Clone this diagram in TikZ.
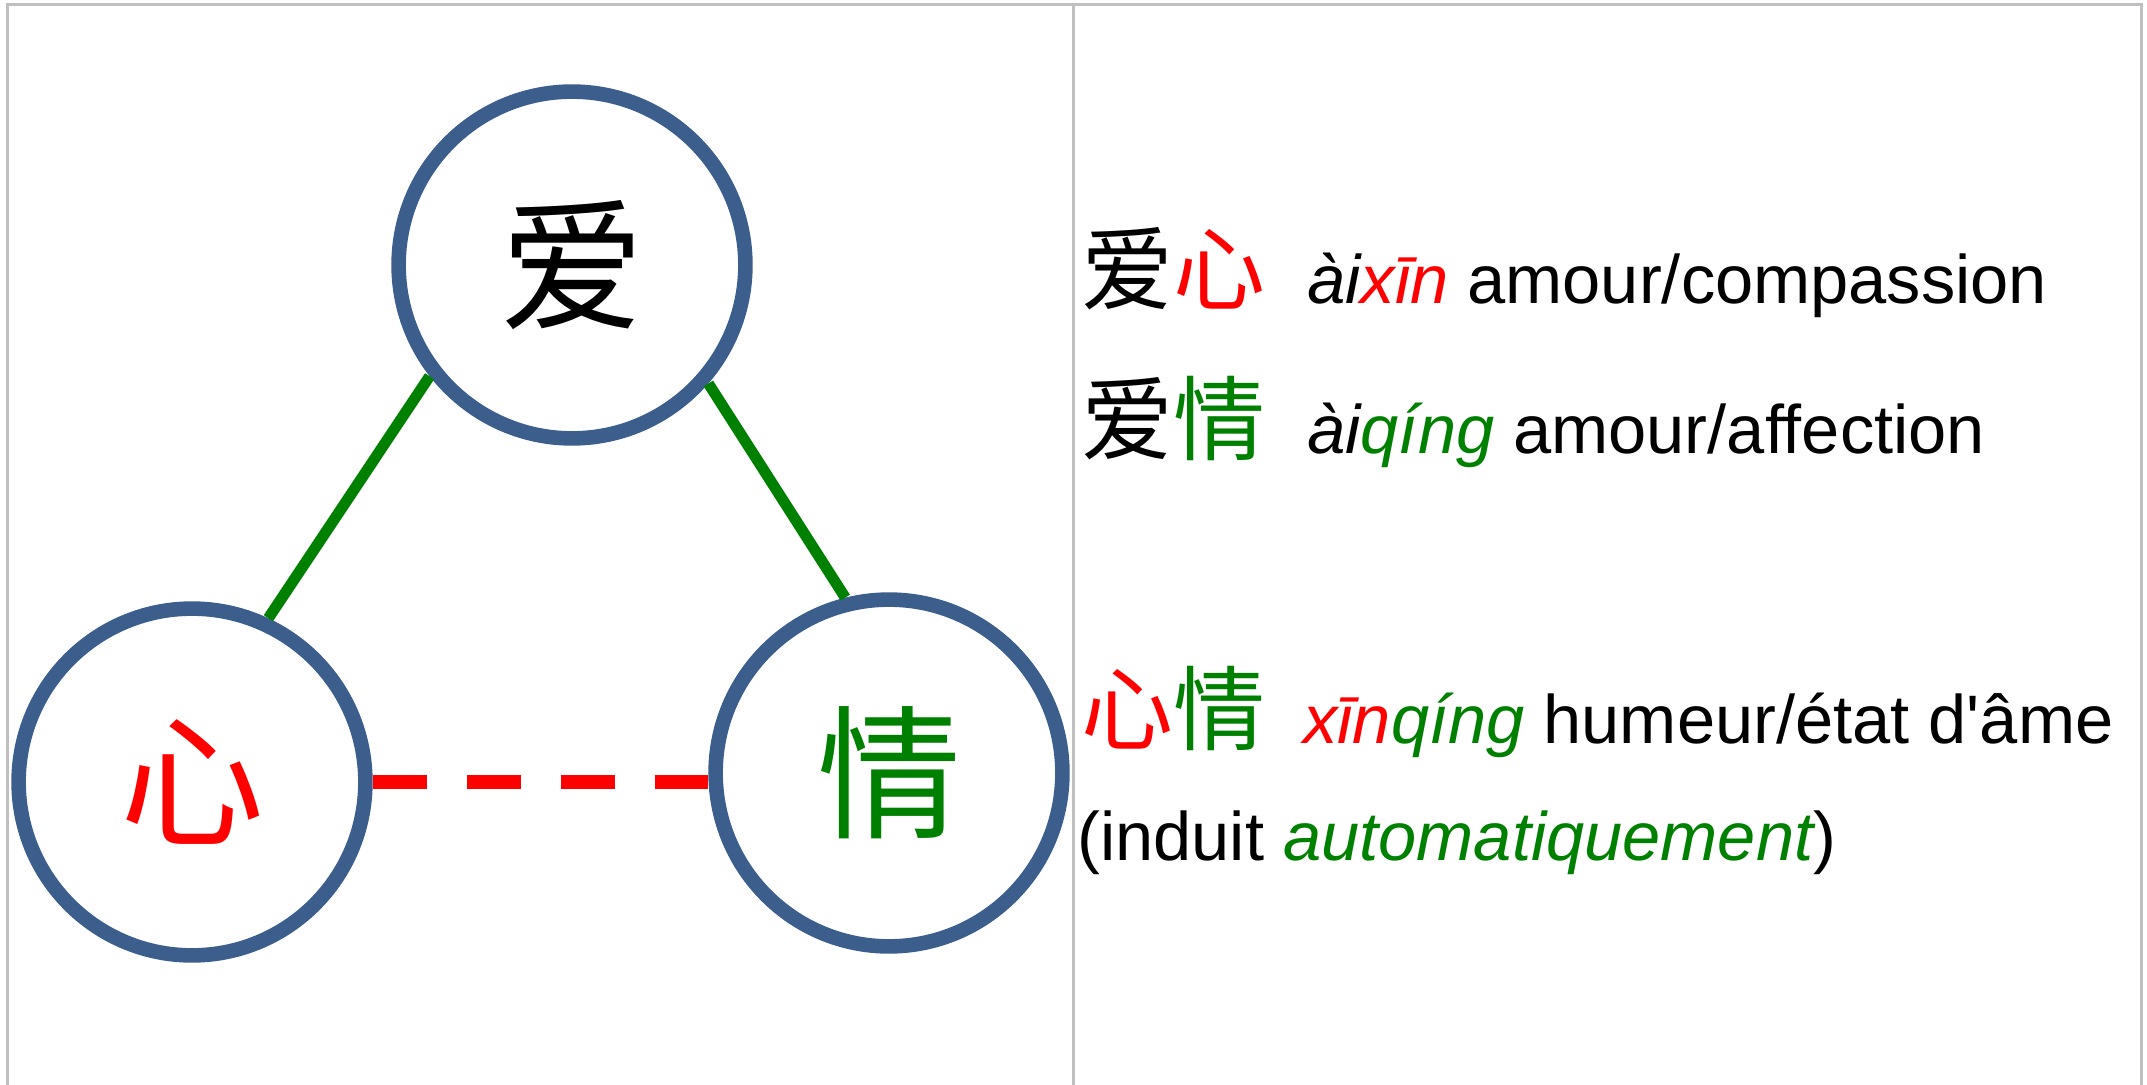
\documentclass[tikz,border=0pt]{standalone}
\usepackage{fontspec}
\setmainfont{Liberation Sans}
\newfontfamily\cjk{Noto Sans CJK SC}
\definecolor{ringblue}{HTML}{3B5E8C}
\definecolor{leafgreen}{HTML}{008000}
\definecolor{framegray}{HTML}{BFBFBF}

\begin{document}
\begin{tikzpicture}[x=0.5pt, y=-0.5pt,
    ring/.style={circle, draw=ringblue, line width=7.3pt, minimum size=173.4pt,
      inner sep=0pt, font=\cjk\fontsize{72pt}{76pt}\selectfont},
    link/.style={draw=leafgreen, line width=5.5pt},
    hint/.style={draw=red, line width=6.7pt, dash pattern=on 27pt off 20pt},
    hanzi/.style={anchor=base west, inner sep=0pt, font=\cjk\fontsize{46pt}{50pt}\selectfont},
    gloss/.style={anchor=base west, inner sep=0pt, font=\fontsize{34.3pt}{40pt}\selectfont}]
    \useasboundingbox (0,0) rectangle (2147,1085);
    % table frame
    \draw[framegray, line width=1.5pt] (7.5,1085) -- (7.5,4.3) -- (2141.3,4.3) -- (2141.3,1085);
    \draw[framegray, line width=1.5pt] (1073.3,4.3) -- (1073.3,1085);
    % the triangle
    \node[ring] (ai) at (572,265) {爱};
    \node[ring, text=red] (xin) at (192,782) {心};
    \node[ring, text=leafgreen] (qing) at (889,773) {情};
    \draw[link] (ai.218.6) -- (xin.65.6);
    \draw[link] (ai.319) -- (qing.104.3);
    \draw[hint] (xin.east) -- (xin.east -| qing.west);
    % the words
    \node[hanzi] (hz1) at (1081,304) {爱\textcolor{red}{心}};
    \node[gloss] (py1) at (1307,304) {\textit{ài\textcolor{red}{xīn}} amour/compassion};
    \node[hanzi] (hz2) at (1081,454) {爱\textcolor{leafgreen}{情}};
    \node[gloss] (py2) at (1307,454) {\textit{ài\textcolor{leafgreen}{qíng}} amour/affection};
    \node[hanzi] (hz3) at (1081,743) {\textcolor{red}{心}\textcolor{leafgreen}{情}};
    \node[gloss] (py3) at (1303,743) {\textit{\textcolor{red}{xīn}\textcolor{leafgreen}{qíng}} humeur/état d\textquotesingle{}âme};
    \node[gloss] (py4) at (1077,860) {(induit \textit{\textcolor{leafgreen}{automatiquement}})};
\end{tikzpicture}
\end{document}
